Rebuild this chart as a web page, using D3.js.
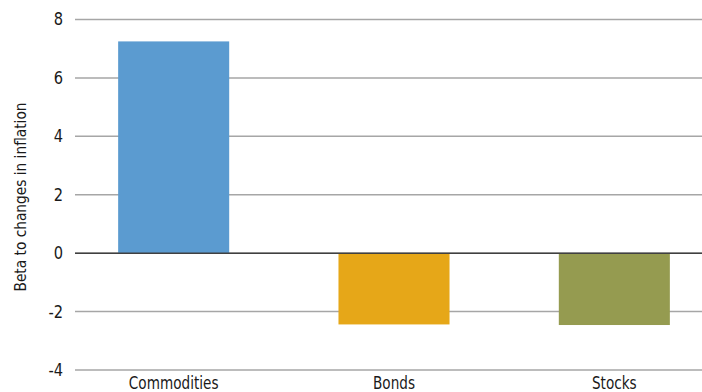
<!DOCTYPE html>
<html>
<head>
<meta charset="utf-8">
<script src="https://cdn.jsdelivr.net/npm/d3@7"></script>
<style>
  body { margin: 0; background: #fff; }
  text { font-family: "DejaVu Sans", sans-serif; fill: #1a1a1a; }
</style>
</head>
<body>
<div id="chart"></div>
<script>
// chart data
var categories = ["Commodities", "Bonds", "Stocks"];
var betas = [7.25, -2.44, -2.46];
var barColors = ["#5B9BD0", "#E6A718", "#959B50"];
var yTicks = [-4, -2, 0, 2, 4, 6, 8];

var width = 702, height = 392;

// squeeze text horizontally to mimic a condensed face
function condense(sel, k) {
  sel.each(function() {
    var len = this.getComputedTextLength();
    d3.select(this)
      .attr("textLength", len * k)
      .attr("lengthAdjust", "spacingAndGlyphs");
  });
}

var svg = d3.select("#chart")
  .append("svg")
    .attr("width", width)
    .attr("height", height);

// scales
var x = d3.scaleBand()
  .domain(categories)
  .range([63.5, 724.5])
  .paddingInner(0.496)
  .paddingOuter(0.248);

var y = d3.scaleLinear()
  .domain([-4, 8])
  .range([370, 19.5]);

// gridlines
svg.append("g")
  .selectAll("line")
  .data(yTicks)
  .enter()
  .append("line")
    .attr("x1", 75)
    .attr("x2", width)
    .attr("y1", function(d) { return y(d); })
    .attr("y2", function(d) { return y(d); })
    .attr("stroke", "#a6a6a6")
    .attr("stroke-width", 1.5);

// bars
svg.selectAll("rect.bar")
  .data(betas)
  .enter()
  .append("rect")
    .attr("class", "bar")
    .attr("x", function(d, i) { return x(categories[i]); })
    .attr("y", function(d) { return y(Math.max(0, d)); })
    .attr("width", x.bandwidth())
    .attr("height", function(d) { return Math.abs(y(d) - y(0)); })
    .attr("fill", function(d, i) { return barColors[i]; });

// zero line on top
svg.append("line")
  .attr("x1", 75)
  .attr("x2", width)
  .attr("y1", y(0))
  .attr("y2", y(0))
  .attr("stroke", "#404040")
  .attr("stroke-width", 1.5);

// y tick labels (hyphen minus like the original)
var yAxis = d3.axisLeft(y)
  .tickValues(yTicks)
  .tickFormat(function(d) { return String(d); })
  .tickSize(0)
  .tickPadding(0);
svg.append("g")
  .attr("transform", "translate(63,0)")
  .call(yAxis)
  .call(function(g) { g.select(".domain").remove(); })
  .selectAll("text")
    .attr("font-size", 17)
    .style("font-family", "'DejaVu Sans', sans-serif")
    .attr("fill", "#1a1a1a")
    .call(condense, 0.86);

// x category labels
var xAxis = d3.axisBottom(x).tickSize(0).tickPadding(0);
svg.append("g")
  .attr("transform", "translate(0,377)")
  .call(xAxis)
  .call(function(g) { g.select(".domain").remove(); })
  .selectAll("text")
    .attr("font-size", 17)
    .style("font-family", "'DejaVu Sans', sans-serif")
    .attr("fill", "#1a1a1a")
    .call(condense, 0.8);

// y axis title
svg.append("text")
  .attr("transform", "translate(26,197) rotate(-90)")
  .attr("text-anchor", "middle")
  .attr("font-size", 16)
  .attr("textLength", 189)
  .attr("lengthAdjust", "spacingAndGlyphs")
  .text("Beta to changes in inflation");
</script>
</body>
</html>
